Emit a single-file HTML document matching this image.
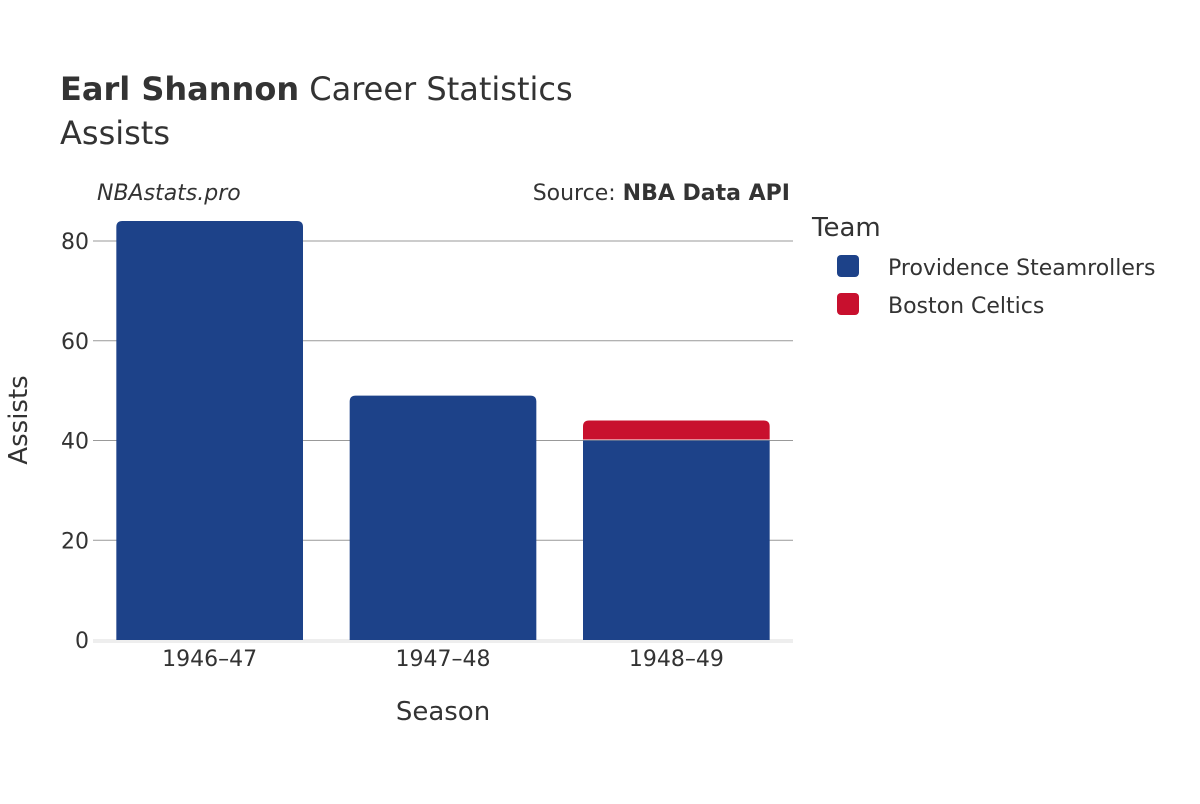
<!DOCTYPE html>
<html><head><meta charset="utf-8"><style>
body{margin:0;background:#fff;font-family:"DejaVu Sans","Liberation Sans",sans-serif;}
svg text{fill:#333;}
</style></head><body>
<svg width="1200" height="800" xmlns="http://www.w3.org/2000/svg">
<text x="60" y="100" font-size="32"><tspan font-weight="bold">Earl Shannon</tspan> Career Statistics</text>
<text x="60" y="144" font-size="32">Assists</text>
<text x="97" y="200" font-size="22" font-style="italic">NBAstats.pro</text>
<text x="790" y="200" font-size="22" text-anchor="end">Source: <tspan font-weight="bold">NBA Data API</tspan></text>
<g id="grid"></g>
<g id="bars"></g>
<g id="xticks"></g>
<text x="443" y="720" font-size="26" text-anchor="middle">Season</text>
<text transform="translate(27,420) rotate(-90)" font-size="26" text-anchor="middle">Assists</text>
<text x="812" y="236" font-size="26">Team</text>
<g><rect x="837" y="255" width="22" height="22" rx="4" fill="#1d4289"/><text x="888" y="275" font-size="22">Providence Steamrollers</text></g>
<g><rect x="837" y="293" width="22" height="22" rx="4" fill="#c8102e"/><text x="888" y="313" font-size="22">Boston Celtics</text></g>
</svg>
<script>
const seasons=["1946–47","1947–48","1948–49"];
const providence=[84,49,40];
const boston=[0,0,4];
const yTicks=[0,20,40,60,80];
const NS="http://www.w3.org/2000/svg";
const x0=93,x1=793,yBase=640,yTop=241,yMaxV=80;
const y=v=>yBase-(v/yMaxV)*(yBase-yTop);
const band=(x1-x0)/seasons.length, bw=band*0.8;
const xs=i=>x0+band*i+(band-bw)/2;
function mk(t,a,p){const e=document.createElementNS(NS,t);for(const k in a)e.setAttribute(k,a[k]);p.appendChild(e);return e;}
const grid=document.getElementById('grid');
yTicks.forEach(v=>{
 if(v>0){const l=mk('line',{x1:x0,x2:x1,y1:y(v),y2:y(v),stroke:'#999','stroke-width':1},grid);
 
 }
 const t=mk('text',{x:x0-4,y:y(v)+8,'font-size':22,'text-anchor':'end'},grid);t.textContent=v;
 
 
});
const base=mk('line',{x1:x0,x2:x1,y1:yBase+1,y2:yBase+1,stroke:'#eee','stroke-width':4},grid);


const bars=document.getElementById('bars');
function barPath(x,yb,yt,w,round){const r=Math.min(6,yb-yt);
 if(!round)return `M${x},${yb}V${yt}H${x+w}V${yb}Z`;
 return `M${x},${yb}V${yt+r}Q${x},${yt} ${x+r},${yt}H${x+w-r}Q${x+w},${yt} ${x+w},${yt+r}V${yb}Z`;}
seasons.forEach((s,i)=>{
 const x=xs(i);
 const p=mk('path',{d:barPath(x,y(0),y(providence[i]),bw,boston[i]===0),fill:'#1d4289'},bars);
 
 
 if(boston[i]>0){
  const b=mk('path',{d:barPath(x,y(providence[i])-1,y(providence[i]+boston[i]),bw,true),fill:'#c8102e'},bars);
  
  
 }
 const t=mk('text',{x:x+bw/2,y:666,'font-size':22,'text-anchor':'middle'},document.getElementById('xticks'));
 t.textContent=s;
 
 
});
</script>
</body></html>
